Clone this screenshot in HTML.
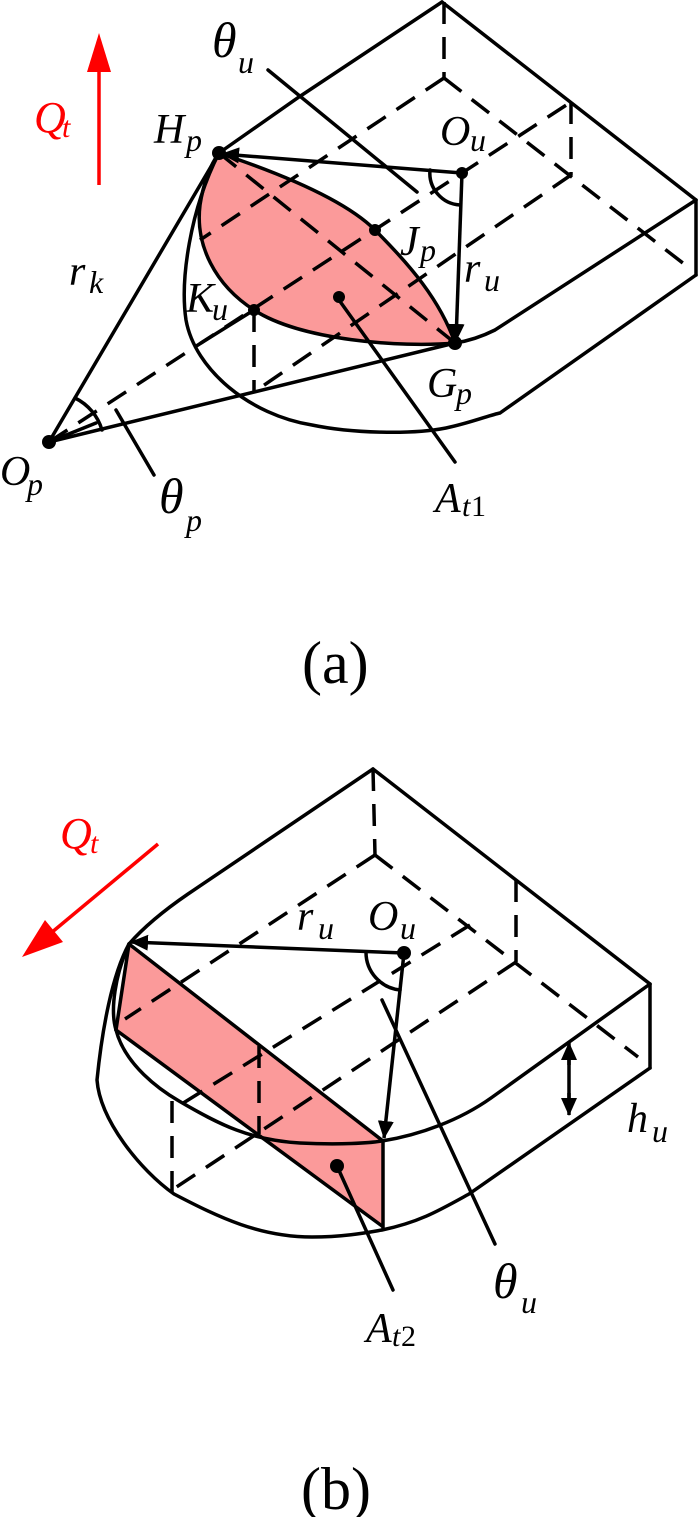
<!DOCTYPE html>
<html><head><meta charset="utf-8"><style>
html,body{margin:0;padding:0;background:#fff;}
svg{display:block;}
text{font-family:"Liberation Serif",serif;font-style:italic;fill:#000;}
.n{font-style:normal;}
</style></head><body>
<svg width="700" height="1517" viewBox="0 0 700 1517" xmlns="http://www.w3.org/2000/svg">
<defs>
<marker id="ahb" markerWidth="18" markerHeight="16" refX="17" refY="8" orient="auto" markerUnits="userSpaceOnUse" viewBox="0 0 18 16">
<path d="M0,0 L18,8 L0,16 z" fill="#000"/></marker>
</defs>

<!-- ===== (a) ===== -->
<path d="M219,153 C300,180 350,205 375,230 C410,265 440,300 455,343 C400,348 300,340 254,310 C215,285 195,245 200,205 C203,185 210,165 219,153 Z" fill="#fb9a9a" stroke="#000" stroke-width="3.5"/>
<g stroke="#000" stroke-width="3.5" fill="none" stroke-linecap="round">
<path d="M442,2 L299,97 Q245,135 219,153"/>
<path d="M442,2 L696,200 L696,275"/>
<path d="M696,200 L495,330 Q475,340 455,343"/>
<path d="M219,153 C190,210 180,280 186,320 C195,370 250,415 312,425 C350,433 410,435 446,428 C470,423 490,415 500,413 L696,275"/>
<path d="M201,343 L254,310"/>
<path d="M49,442 L219,153"/>
<path d="M49,442 L455,343"/>
<path d="M268,70 L417,192"/>
<path d="M339,300 L455,462"/>
<path d="M116,410 L154,475"/>
<path d="M75,398 A52,52 0 0 1 102,430"/>
<path d="M49,442 L96,423" />
<path d="M430,170 A32,32 0 0 0 460,205"/>
</g>
<g stroke="#000" stroke-width="3.5" fill="none" stroke-dasharray="22 13">
<path d="M444,2 L444,78"/>
<path d="M444,78 L200,240"/>
<path d="M444,78 L688,267"/>
<path d="M571,102 L571,175"/>
<path d="M571,175 L254,392"/>
<path d="M219,153 L455,343"/>
<path d="M49,442 L571,102"/>
<path d="M254,310 L254,392"/>
</g>
<g stroke="#000" stroke-width="3.5" fill="none">
<line x1="462" y1="173" x2="222" y2="154" marker-end="url(#ahb)"/>
<line x1="462" y1="173" x2="456" y2="341" marker-end="url(#ahb)"/>
</g>
<g fill="#000">
<circle cx="219" cy="153" r="7"/><circle cx="462" cy="173" r="6"/>
<circle cx="375" cy="230" r="6"/><circle cx="254" cy="310" r="6"/>
<circle cx="455" cy="343" r="7"/><circle cx="339" cy="297" r="6"/>
<circle cx="49" cy="442" r="7"/>
</g>
<line x1="99" y1="185" x2="99" y2="70" stroke="#f00" stroke-width="3.5"/>
<polygon points="99,33 87,72 111,72" fill="#f00"/>
<text x="34" y="132" font-size="44" style="fill:#f00">Q</text><text x="62" y="137" font-size="30" style="fill:#f00">t</text>
<text x="212" y="57" font-size="50">θ</text><text x="238" y="73" font-size="32">u</text>
<text x="154" y="143" font-size="42">H</text><text x="186" y="151" font-size="32">p</text>
<text x="440" y="145" font-size="42">O</text><text x="470" y="151" font-size="32">u</text>
<text x="400" y="255" font-size="42">J</text><text x="420" y="261" font-size="32">p</text>
<text x="464" y="282" font-size="42">r</text><text x="484" y="291" font-size="32">u</text>
<text x="69" y="285" font-size="42">r</text><text x="89" y="293" font-size="32">k</text>
<text x="186" y="312" font-size="42">K</text><text x="212" y="320" font-size="32">u</text>
<text x="427" y="397" font-size="42">G</text><text x="456" y="404" font-size="32">p</text>
<text x="0" y="485" font-size="42">O</text><text x="27" y="495" font-size="32">p</text>
<text x="159" y="513" font-size="50">θ</text><text x="186" y="531" font-size="32">p</text>
<text x="435" y="512" font-size="42">A</text><text x="462" y="516" font-size="30">t</text><text x="471" y="516" font-size="30" class="n">1</text>
<text x="302" y="683" font-size="60" class="n">(a)</text>

<!-- ===== (b) ===== -->
<polygon points="129,944 383,1141 383,1226 116,1030" fill="#fb9a9a"/>
<g stroke="#000" stroke-width="3.5" fill="none" stroke-linecap="round">
<path d="M373,769 L188,894 Q150,920 129,944"/>
<path d="M373,769 L650,984 L650,1068"/>
<path d="M129,944 C115,975 110,1010 116,1030 C125,1065 160,1090 179,1101 C220,1125 250,1140 300,1143 C340,1145 370,1143 382,1141 C420,1135 460,1120 491,1098 L650,984"/>
<path d="M129,944 C112,975 102,1030 97,1080 C100,1120 140,1170 174,1194 C220,1218 260,1237 312,1237 C345,1237 370,1232 382,1230 C420,1222 440,1210 469,1194 L650,1068"/>
<path d="M129,944 L116,1030"/>
<path d="M129,944 L383,1141 L383,1228"/>
<path d="M116,1030 L382,1226"/>
<path d="M382,1000 L495,1244"/>
<path d="M337,1166 L393,1290"/>
<path d="M366,952 A38,38 0 0 0 400,990"/>
</g>
<g stroke="#000" stroke-width="3.5" fill="none" stroke-dasharray="22 13">
<path d="M373,769 L375,855"/>
<path d="M375,855 L125,1019"/>
<path d="M375,855 L638,1057"/>
<path d="M516,880 L516,962"/>
<path d="M516,962 L172,1190"/>
<path d="M470,925 L172,1110"/>
<path d="M259,1046 L259,1134"/>
<path d="M172,1101 L172,1194"/>
</g>
<g stroke="#000" stroke-width="3.5" fill="none">
<line x1="404" y1="953" x2="131" y2="942" marker-end="url(#ahb)"/>
<line x1="404" y1="953" x2="384" y2="1138" marker-end="url(#ahb)"/>
<line x1="569" y1="1065" x2="569" y2="1043" marker-end="url(#ahb)"/>
<line x1="569" y1="1093" x2="569" y2="1115" marker-end="url(#ahb)"/>
<line x1="569" y1="1060" x2="569" y2="1098"/>
</g>
<g fill="#000">
<circle cx="404" cy="953" r="7"/><circle cx="337" cy="1166" r="7"/>
</g>
<line x1="158" y1="844" x2="45" y2="938" stroke="#f00" stroke-width="3.5"/>
<polygon points="22,957 45,920 63,942" fill="#f00"/>
<text x="60" y="848" font-size="44" style="fill:#f00">Q</text><text x="90" y="853" font-size="30" style="fill:#f00">t</text>
<text x="297" y="930" font-size="42">r</text><text x="318" y="939" font-size="32">u</text>
<text x="368" y="930" font-size="42">O</text><text x="400" y="939" font-size="32">u</text>
<text x="627" y="1132" font-size="42">h</text><text x="652" y="1142" font-size="32">u</text>
<text x="493" y="1298" font-size="50">θ</text><text x="521" y="1313" font-size="32">u</text>
<text x="366" y="1342" font-size="42">A</text><text x="392" y="1346" font-size="30">t</text><text x="401" y="1346" font-size="30" class="n">2</text>
<text x="301" y="1509" font-size="60" class="n">(b)</text>
</svg>
</body></html>
